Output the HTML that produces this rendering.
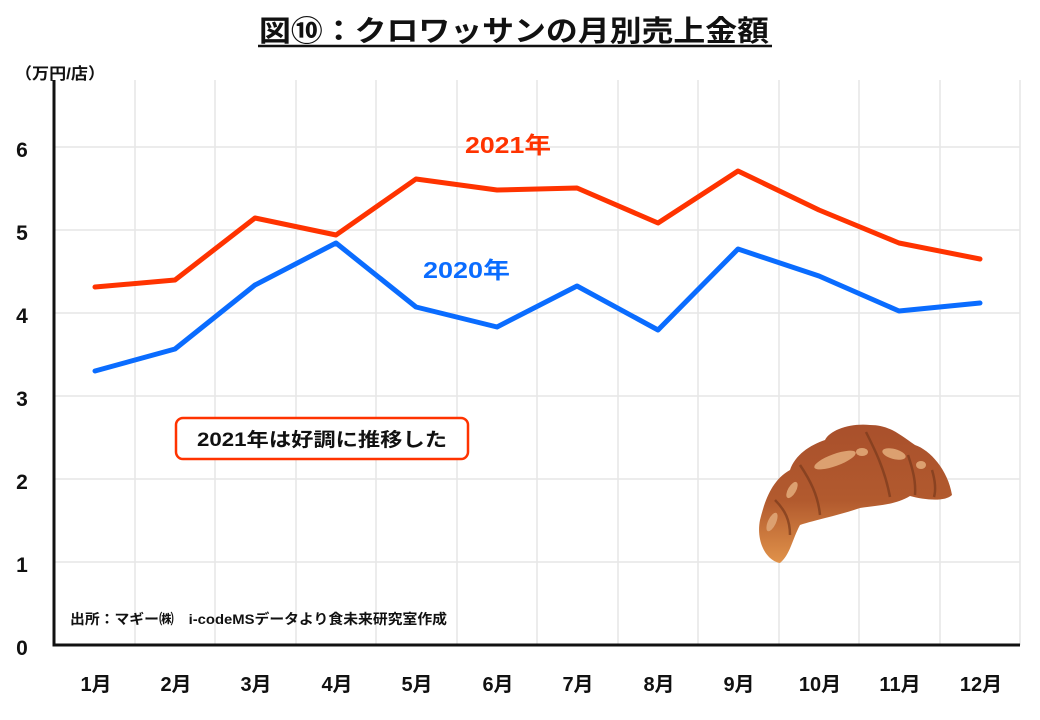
<!DOCTYPE html>
<html><head><meta charset="utf-8"><style>
body{margin:0;background:#fff;}
svg{display:block;font-family:"Liberation Sans","Noto Sans CJK JP",sans-serif;}
</style></head><body>
<svg width="1040" height="720" viewBox="0 0 1040 720" xmlns="http://www.w3.org/2000/svg">
<defs>
<linearGradient id="cg" x1="0" y1="0" x2="0" y2="1">
<stop offset="0" stop-color="#a9502c"/><stop offset="0.55" stop-color="#b25a2e"/><stop offset="1" stop-color="#e0924a"/>
</linearGradient>
</defs>
<text x="259" y="41" font-size="29" font-weight="bold" fill="#111" textLength="510" lengthAdjust="spacingAndGlyphs">図⑩：クロワッサンの月別売上金額</text>
<line x1="258" y1="46" x2="772" y2="46" stroke="#111" stroke-width="2.5"/>
<text x="15" y="79" font-size="16" font-weight="bold" fill="#111" textLength="90" lengthAdjust="spacingAndGlyphs">（万円/店）</text>
<g stroke="#e6e6e6" stroke-width="1.5">
<line x1="54" y1="147" x2="1020" y2="147"/><line x1="54" y1="230" x2="1020" y2="230"/><line x1="54" y1="313" x2="1020" y2="313"/><line x1="54" y1="396" x2="1020" y2="396"/><line x1="54" y1="479" x2="1020" y2="479"/><line x1="54" y1="562" x2="1020" y2="562"/>
<line x1="135" y1="80" x2="135" y2="645"/><line x1="215" y1="80" x2="215" y2="645"/><line x1="296" y1="80" x2="296" y2="645"/><line x1="376" y1="80" x2="376" y2="645"/><line x1="457" y1="80" x2="457" y2="645"/><line x1="537" y1="80" x2="537" y2="645"/><line x1="618" y1="80" x2="618" y2="645"/><line x1="698" y1="80" x2="698" y2="645"/><line x1="779" y1="80" x2="779" y2="645"/><line x1="859" y1="80" x2="859" y2="645"/><line x1="940" y1="80" x2="940" y2="645"/><line x1="1020" y1="80" x2="1020" y2="645"/>
</g>
<polyline points="54,80 54,645 1020,645" fill="none" stroke="#111" stroke-width="3"/>
<g font-size="21" font-weight="bold" fill="#111" text-anchor="middle">
<text x="22" y="655">0</text><text x="22" y="572">1</text><text x="22" y="489">2</text><text x="22" y="406">3</text><text x="22" y="323">4</text><text x="22" y="240">5</text><text x="22" y="157">6</text>
</g>
<g font-size="20" font-weight="bold" fill="#111" text-anchor="middle">
<text x="96" y="691">1月</text><text x="176" y="691">2月</text><text x="256" y="691">3月</text><text x="337" y="691">4月</text><text x="417" y="691">5月</text><text x="498" y="691">6月</text><text x="578" y="691">7月</text><text x="659" y="691">8月</text><text x="739" y="691">9月</text><text x="820" y="691">10月</text><text x="900" y="691">11月</text><text x="981" y="691">12月</text>
</g>
<polyline points="95,287 175,280 255,218 336,235 416,179 497,190 577,188 658,223 738,171 819,210 899,243 980,259" fill="none" stroke="#ff3300" stroke-width="5" stroke-linejoin="round" stroke-linecap="round"/>
<polyline points="95,371 175,349 255,285 336,243 416,307 497,327 577,286 658,330 738,249 819,276 899,311 980,303" fill="none" stroke="#0a6cff" stroke-width="5" stroke-linejoin="round" stroke-linecap="round"/>
<text x="465" y="153" font-size="23" font-weight="bold" fill="#ff3300" textLength="86" lengthAdjust="spacingAndGlyphs">2021年</text>
<text x="423" y="278" font-size="23" font-weight="bold" fill="#0a6cff" textLength="87" lengthAdjust="spacingAndGlyphs">2020年</text>
<rect x="176" y="418" width="292" height="41" rx="7" fill="#fff" stroke="#ff3300" stroke-width="2.5"/>
<text x="197" y="446" font-size="19" font-weight="bold" fill="#111" textLength="250" lengthAdjust="spacingAndGlyphs">2021年は好調に推移した</text>
<text x="70" y="624" font-size="14" font-weight="bold" fill="#111" textLength="377" lengthAdjust="spacingAndGlyphs">出所：マギー㈱　i-codeMSデータより食未来研究室作成</text>
<g>
<path d="M780,563 C765,560 756,540 760,520 C765,500 772,480 790,470 C795,455 810,445 825,440 C830,430 850,423 870,425 C890,425 900,435 915,445 C930,450 948,470 952,495 C945,502 925,500 910,496 C895,505 880,505 860,508 C840,515 815,520 800,525 C792,540 790,555 780,563 Z" fill="url(#cg)"/>
<g stroke="#7a3a1c" stroke-width="2.5" fill="none" opacity="0.7">
<path d="M775,500 C785,510 790,520 790,535"/><path d="M800,465 C810,480 818,495 820,515"/><path d="M866,432 C875,450 885,470 890,497"/><path d="M908,455 C913,470 916,482 915,495"/><path d="M932,470 C935,480 936,490 934,497"/>
</g>
<g fill="#dca070">
<ellipse cx="835" cy="460" rx="22" ry="6" transform="rotate(-20 835 460)"/><ellipse cx="862" cy="452" rx="6" ry="4"/><ellipse cx="894" cy="454" rx="12" ry="5" transform="rotate(15 894 454)"/><ellipse cx="921" cy="465" rx="5" ry="4"/><ellipse cx="792" cy="490" rx="4" ry="9" transform="rotate(30 792 490)"/><ellipse cx="772" cy="522" rx="4" ry="10" transform="rotate(25 772 522)"/>
</g>
</g>
</svg>
</body></html>
